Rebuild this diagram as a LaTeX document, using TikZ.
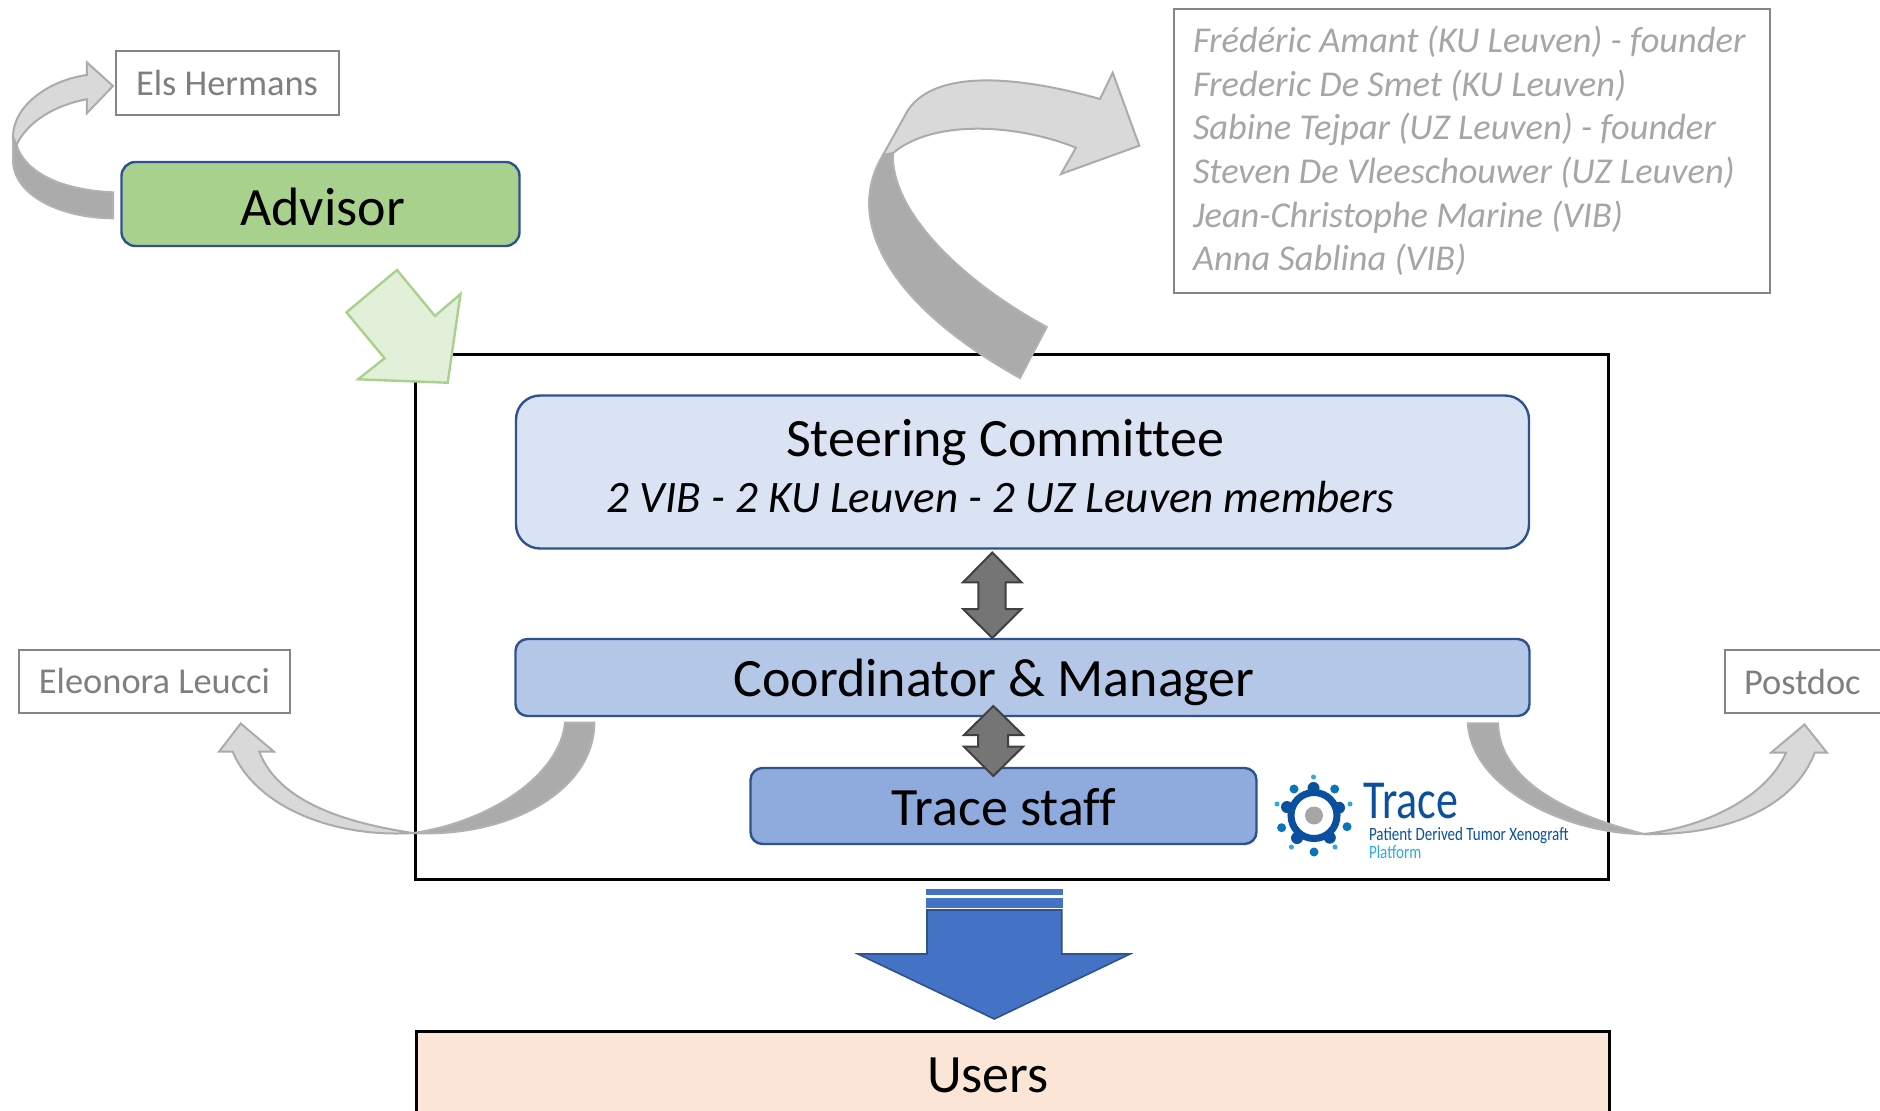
\documentclass[tikz,border=0pt]{standalone}
\usepackage{fontspec}
\setmainfont[Ligatures=NoCommon]{Carlito}
\newfontfamily\logofont[FakeStretch=0.8]{Carlito}
\definecolor{boxblue}{HTML}{2F528F}
\definecolor{textgray}{HTML}{7F7F7F}
\definecolor{namegray}{HTML}{A6A6A6}
\definecolor{logoblue}{HTML}{0B4F9F}
\definecolor{logomid}{HTML}{0A75BE}
\definecolor{logolight}{HTML}{29ABE2}
\definecolor{advisorgreen}{HTML}{A9D18E}
\definecolor{palegreen}{HTML}{E2F0D9}
\definecolor{steerblue}{HTML}{DAE3F3}
\definecolor{coordblue}{HTML}{B4C7E7}
\definecolor{staffblue}{HTML}{8FAADC}
\definecolor{arrowblue}{HTML}{4472C4}
\definecolor{userspeach}{HTML}{FBE5D6}
\tikzset{
  bluebox/.style={draw=boxblue, line width=1.2pt, rounded corners=6pt, inner sep=0pt},
  graybox/.style={draw=namegray!80!black, line width=1pt, fill=white, inner sep=0pt, text=textgray,
    font=\fontsize{18.2}{22}\selectfont},
  bigtext/.style={inner sep=0pt, font=\fontsize{27}{32}\selectfont},
  lightarrow/.style={fill=black!15, draw=black!33, line width=1pt, line join=miter},
  darkarrow/.style={fill=black!33, draw=black!30, line width=1pt},
  twoarrow/.style={fill=black!54, draw=black!75, line width=1pt}
}
\begin{document}
\begin{tikzpicture}[x=0.5pt, y=-0.5pt]
\useasboundingbox (0,0) rectangle (1880,1110);
\clip (0,0) rectangle (1880,1110);

% top left
\node[bluebox, fill=advisorgreen, rounded corners=7pt, minimum width=199pt, minimum height=42pt] (advisor) at (320.5,204) {};
\node[bigtext] (advisorname) at (322.5,207) {Advisor};
\node[graybox, minimum width=111.5pt, minimum height=32pt] (els) at (227,83) {Els Hermans};
\draw[darkarrow] (113,192.3) .. controls (60,190) and (25,172) .. (16.5,145) -- (13,137) -- (13,160) .. controls (13,195) and (60,218) .. (113,218.3) -- cycle;
\draw[lightarrow] (13,137) .. controls (13,105) and (50,80) .. (86.8,75) -- (86.8,62.3) -- (113,86) -- (86.8,113.3) -- (86.8,99.3) .. controls (55,105) and (27,122) .. (16.5,145) -- cycle;

% main frame
\draw[line width=1.5pt] (415,354) rectangle (1608,879);
\draw[fill=palegreen, draw=advisorgreen, line width=1.2pt] (397,270) -- (435,316) -- (460.5,294) -- (447.7,382.7) -- (358,379.3) -- (384.6,358.3) -- (346.5,312.3) -- cycle;

% name list
\node[graybox, anchor=north west, text=namegray, text width=279pt, inner xsep=9.5pt, minimum height=142pt, align=flush left, font=\fontsize{18.2}{21.8}\selectfont\itshape] (names) at (1173,8) {Fr\'ed\'eric Amant (KU Leuven) - founder\\Frederic De Smet (KU Leuven)\\Sabine Tejpar (UZ Leuven) - founder\\Steven De Vleeschouwer (UZ Leuven)\\Jean-Christophe Marine (VIB)\\Anna Sablina (VIB)};
\draw[darkarrow] (883,155) .. controls (846,215) and (880,300) .. (1020,378) -- (1046.7,327) .. controls (960,280) and (890,210) .. (893,153) -- cycle;
\draw[lightarrow] (1100,99) -- (1112.7,72.7) -- (1139.3,145.7) -- (1061,174) -- (1076,147.7) .. controls (1020,125) and (935,118) .. (893,153) -- (883,155) -- (908,110) .. controls (940,63) and (1040,82) .. (1100,99) -- cycle;

% inner boxes
\node[bluebox, fill=steerblue, rounded corners=12pt, minimum width=506.5pt, minimum height=76.5pt] (steering) at (1022.5,472) {};
\node[bigtext] (steeringname) at (1005,443) {Steering Committee};
\node[bigtext, font=\fontsize{22.5}{26}\selectfont\itshape] (steeringtext) at (1000.5,497) {2 VIB - 2 KU Leuven - 2 UZ Leuven members};
\node[bluebox, fill=coordblue, minimum width=507pt, minimum height=38.5pt] (coord) at (1022.5,677.5) {};
\node[bigtext] (coordname) at (994,682) {Coordinator \& Manager};
\node[bluebox, fill=staffblue, minimum width=253pt, minimum height=38pt] (staff) at (1003.5,806) {};
\node[bigtext] (staffname) at (1004,807) {Trace staff};

% double arrows
\draw[twoarrow] (992.3,552.5) -- (1021.5,582.3) -- (1005.7,582.3) -- (1005.7,609) -- (1021.5,609) -- (992.3,638) -- (963,609) -- (978.3,609) -- (978.3,582.3) -- (963,582.3) -- cycle;
\draw[twoarrow] (993.3,706) -- (1023,735) -- (1008,735) -- (1008,746.7) -- (1023,746.7) -- (993.3,776) -- (964,746.7) -- (978,746.7) -- (978,735) -- (964,735) -- cycle;

% side boxes
\node[graybox, minimum width=135.5pt, minimum height=31.5pt] (eleonora) at (154.5,681) {Eleonora Leucci};
\node[graybox, anchor=north west, minimum width=100pt, minimum height=31.5pt, text width=90pt, align=flush left, inner xsep=9.5pt] (postdoc) at (1724,649) {Postdoc};

% bottom curved arrows
\draw[darkarrow] (565,722.7) .. controls (560,775) and (490,822) .. (413,833) .. controls (510,838) and (594.3,790) .. (594.3,722.7) -- cycle;
\draw[lightarrow] (240.7,723.5) -- (274,751.7) -- (259.3,751.7) .. controls (278,800) and (340,822) .. (413,833) .. controls (330,838) and (255,805) .. (232.7,751.7) -- (219,751.7) -- cycle;
\draw[darkarrow] (1467.8,723.3) .. controls (1472,790) and (1570,834) .. (1644,834) .. controls (1590,820) and (1500,790) .. (1498,723.3) -- cycle;
\draw[lightarrow] (1804.5,724.5) -- (1827,752.7) -- (1814.7,752.7) .. controls (1795,805) and (1730,836) .. (1644,834) .. controls (1700,828) and (1765,800) .. (1786,752.7) -- (1771,752.7) -- cycle;

% logo
\draw[logoblue, line width=3.5pt] (1314,815.5) circle (23);
\fill[black!35] (1314,815.5) circle (9);
\foreach \x/\y in {1313.5/788, 1339/807.7, 1329.8/837.7, 1297/838, 1287/807}{
\fill[logoblue] (\x,\y) circle (6);
}
\foreach \x/\y in {1294/789, 1334.7/789, 1347/826.7, 1281.6/827.7, 1314/852}{
\fill[logomid] (\x,\y) circle (4.5);
}
\foreach \x/\y in {1313.5/777, 1277/804, 1350/804, 1291.4/847, 1335/847}{
\fill[logolight] (\x,\y) circle (2.5);
}
\node[anchor=west, inner sep=0pt, text=logoblue, font=\logofont\fontsize{27.5}{32}\selectfont] (tracename) at (1363,801) {Trace};
\node[anchor=west, inner sep=0pt, text=logoblue, align=flush left, font=\logofont\fontsize{9.4}{8.8}\selectfont] (tracesub) at (1368.6,843) {Patient Derived Tumor Xenograft\\\textcolor{logolight}{Platform}};

% users
\fill[arrowblue] (926,889) rectangle (1062.7,895);
\fill[arrowblue] (926,897.5) rectangle (1062.7,907.5);
\draw[fill=arrowblue, draw=boxblue, line width=0.8pt] (927,910) -- (1061.7,910) -- (1061.7,954) -- (1130,954) -- (994.3,1019) -- (858,954) -- (927,954) -- cycle;
\node[draw, line width=1.5pt, fill=userspeach, anchor=north west, minimum width=596.5pt, minimum height=50pt, inner sep=0pt] (users) at (415,1030) {};
\node[bigtext] (usersname) at (988,1075) {Users};
\end{tikzpicture}
\end{document}
